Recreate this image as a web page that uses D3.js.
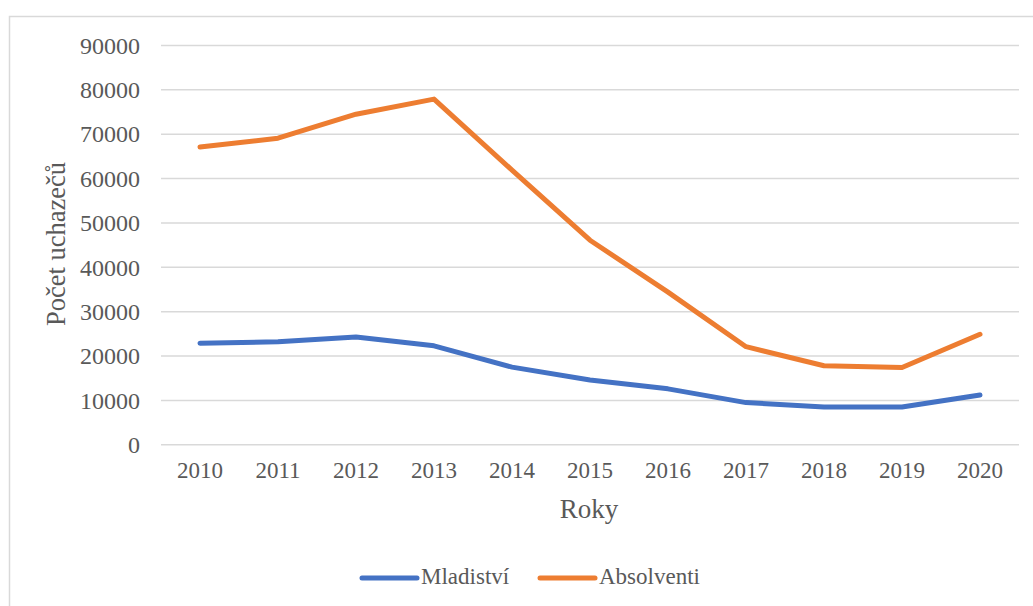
<!DOCTYPE html>
<html>
<head>
<meta charset="utf-8">
<script src="https://cdn.jsdelivr.net/npm/d3@7"></script>
<style>
  body { margin: 0; background: #fff; }
</style>
</head>
<body>
<svg id="chart" width="1033" height="606"></svg>
<script>
(function () {

var years = ['2010', '2011', '2012', '2013', '2014', '2015', '2016', '2017', '2018', '2019', '2020'];
var mladistvi = [22800, 23100, 24200, 22200, 17400, 14500, 12500, 9400, 8400, 8400, 11100];
var absolventi = [67000, 69000, 74400, 77800, 61800, 46000, 34300, 22000, 17700, 17300, 24800];
var yTicks = [0, 10000, 20000, 30000, 40000, 50000, 60000, 70000, 80000, 90000];

var series = [
    { name: 'Mladiství', values: mladistvi, color: '#4472C4' },
    { name: 'Absolventi', values: absolventi, color: '#ED7D31' }
];

var fontFamily = "'Liberation Serif', 'Times New Roman', serif";
var textColor = '#595959';

var svg = d3.select('#chart');

// outer chart frame (runs off the picture to the right and bottom)
svg.append('rect')
    .attr('x', 9.5).attr('y', 16.5)
    .attr('width', 1100).attr('height', 700)
    .attr('fill', 'none').attr('stroke', '#d9d9d9').attr('stroke-width', 1.5);

var plotLeft = 161, plotRight = 1019, plotTop = 45, plotBottom = 444.3;

var x = d3.scaleBand().domain(years).range([plotLeft, plotRight]);
var y = d3.scaleLinear().domain([0, 90000]).range([plotBottom, plotTop]);

// gridlines + y labels
var yAxis = d3.axisLeft(y).tickValues(yTicks).tickSize(-(plotRight - plotLeft)).tickPadding(21)
    .tickFormat(d3.format('d'));
var gy = svg.append('g').attr('transform', 'translate(' + plotLeft + ',0)').call(yAxis);
gy.select('.domain').remove();
gy.selectAll('line').attr('stroke', '#d9d9d9').attr('stroke-width', 1.5);
gy.selectAll('text').attr('dy', '0.34em').attr('font-size', 24);

// x labels
var xAxis = d3.axisBottom(x).tickSize(0).tickPadding(17.5);
var gx = svg.append('g').attr('transform', 'translate(0,' + plotBottom + ')').call(xAxis);
gx.select('.domain').remove();
gx.selectAll('text').attr('font-size', 23);

svg.selectAll('g text')
    .attr('font-family', fontFamily)
    .attr('fill', textColor);

// lines
var line = d3.line()
    .x(function (d, i) { return x(years[i]) + x.bandwidth() / 2; })
    .y(function (d) { return y(d); });

svg.selectAll('.series')
    .data(series)
    .enter().append('path')
    .attr('class', 'series')
    .attr('d', function (d) { return line(d.values); })
    .attr('fill', 'none')
    .attr('stroke', function (d) { return d.color; })
    .attr('stroke-width', 5)
    .attr('stroke-linecap', 'round')
    .attr('stroke-linejoin', 'round');

// axis titles
svg.append('text')
    .attr('transform', 'translate(65,244) rotate(-90)')
    .attr('text-anchor', 'middle')
    .attr('font-family', fontFamily)
    .attr('font-size', 26.5)
    .attr('fill', textColor)
    .text('Počet uchazečů');

svg.append('text')
    .attr('x', 589).attr('y', 518)
    .attr('text-anchor', 'middle')
    .attr('font-family', fontFamily)
    .attr('font-size', 27)
    .attr('fill', textColor)
    .text('Roky');

// legend
var legendX = [362, 540];
var legend = svg.selectAll('.legend')
    .data(series)
    .enter().append('g')
    .attr('class', 'legend')
    .attr('transform', function (d, i) { return 'translate(' + legendX[i] + ',578)'; });

legend.append('line')
    .attr('x1', 0).attr('x2', 55)
    .attr('stroke', function (d) { return d.color; })
    .attr('stroke-width', 5)
    .attr('stroke-linecap', 'round');

legend.append('text')
    .attr('x', 59).attr('dy', 6)
    .attr('font-family', fontFamily)
    .attr('font-size', 23)
    .attr('fill', textColor)
    .text(function (d) { return d.name; });

})();
</script>
</body>
</html>
